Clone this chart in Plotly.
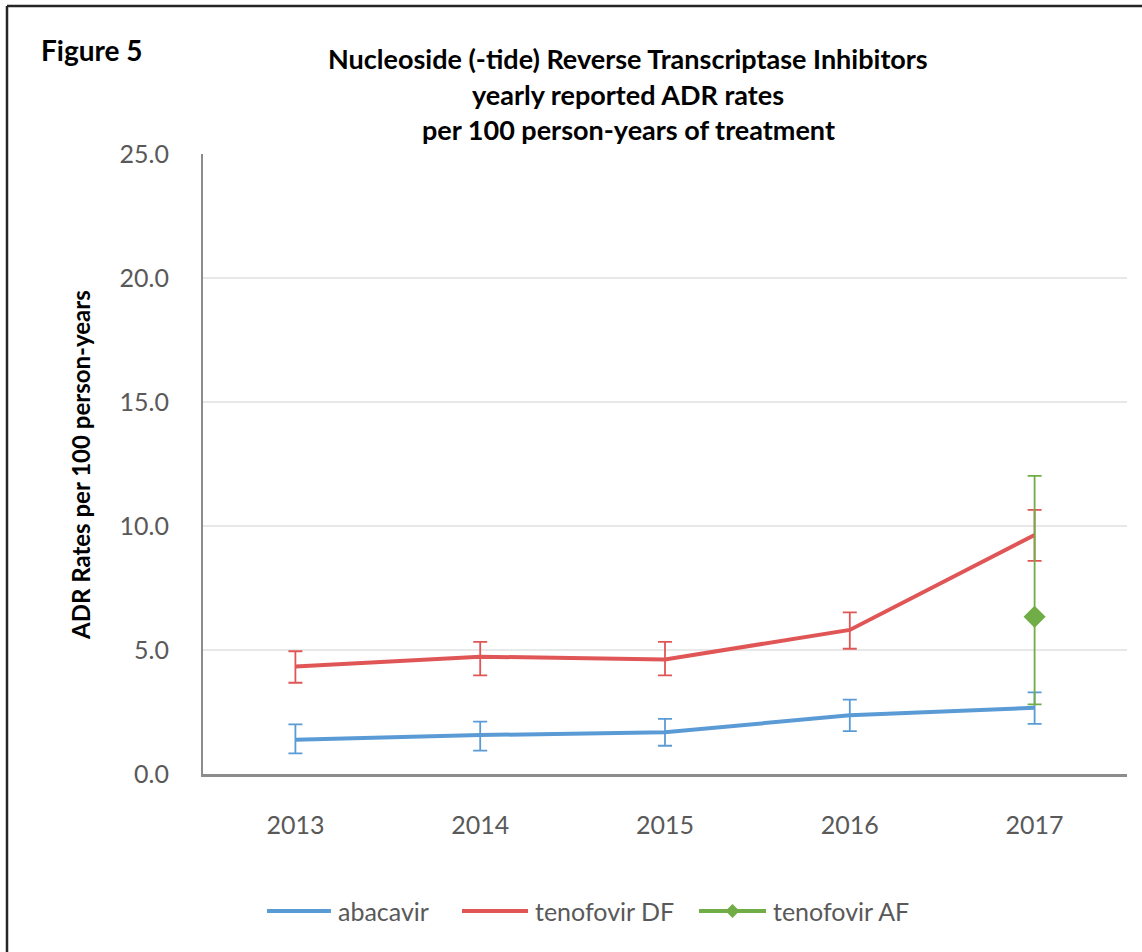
import plotly.graph_objects as go

# Reporting years
years = [2013, 2014, 2015, 2016, 2017]

# abacavir: ADR rate per 100 person-years with confidence limits
abacavir_rate = [1.38, 1.57, 1.68, 2.37, 2.67]
abacavir_upper = [2.00, 2.11, 2.22, 3.00, 3.29]
abacavir_lower = [0.83, 0.94, 1.14, 1.73, 2.02]

# tenofovir DF
tdf_rate = [4.33, 4.73, 4.62, 5.81, 9.64]
tdf_upper = [4.95, 5.33, 5.33, 6.52, 10.65]
tdf_lower = [3.68, 3.98, 3.98, 5.05, 8.59]

# tenofovir AF (single year)
taf_years = [2017]
taf_rate = [6.34]
taf_upper = [12.02]
taf_lower = [2.81]

y_ticks = [0, 5, 10, 15, 20, 25]

BLUE = "#5B9BD5"
RED = "#E05656"
GREEN = "#70AD47"
FONT = "Lato"

# plot-area geometry in pixels (used for overlay text / legend placement)
L, R, T, B = 203, 1127, 154, 774
W, H = R - L, B - T


def xp(px):
    return (px - L) / W


def yp(py):
    return (B - py) / H


def err(rate, up, lo):
    return dict(
        type="data",
        symmetric=False,
        array=[u - r for u, r in zip(up, rate)],
        arrayminus=[r - l for r, l in zip(rate, lo)],
        thickness=1.8,
        width=7,
    )


fig = go.Figure()

fig.add_trace(go.Scatter(
    x=years, y=abacavir_rate, mode="lines", name="abacavir",
    line=dict(color=BLUE, width=4),
    error_y=dict(err(abacavir_rate, abacavir_upper, abacavir_lower), color=BLUE),
))
fig.add_trace(go.Scatter(
    x=years, y=tdf_rate, mode="lines", name="tenofovir DF",
    line=dict(color=RED, width=4),
    error_y=dict(err(tdf_rate, tdf_upper, tdf_lower), color=RED),
))
fig.add_trace(go.Scatter(
    x=taf_years, y=taf_rate, mode="lines+markers", name="tenofovir AF",
    line=dict(color=GREEN, width=4),
    marker=dict(symbol="diamond", size=17, color=GREEN),
    error_y=dict(err(taf_rate, taf_upper, taf_lower), color=GREEN),
))

shapes = []
annotations = []

# outer frame (top and left edges)
shapes.append(dict(type="line", xref="paper", yref="paper",
                   x0=xp(7), x1=xp(1150), y0=yp(6), y1=yp(6),
                   line=dict(color="#262626", width=2.5)))
shapes.append(dict(type="line", xref="paper", yref="paper",
                   x0=xp(7), x1=xp(7), y0=yp(6), y1=yp(960),
                   line=dict(color="#262626", width=2.5)))

# titles
annotations.append(dict(text="<b>Figure 5</b>", xref="paper", yref="paper",
                        x=xp(39), y=yp(50), xanchor="left", yanchor="middle",
                        showarrow=False, font=dict(family=FONT, size=28, color="#000000")))
title_lines = ["Nucleoside (-tide) Reverse Transcriptase Inhibitors",
               "yearly reported ADR rates",
               "per 100 person-years of treatment"]
for line, py in zip(title_lines, [58, 94, 130]):
    annotations.append(dict(text="<b>" + line + "</b>", xref="paper", yref="paper",
                            x=xp(628), y=yp(py), xanchor="center", yanchor="middle",
                            showarrow=False, font=dict(family=FONT, size=27, color="#000000")))

# y-axis title
annotations.append(dict(text="<b>ADR Rates per 100 person-years</b>", xref="paper", yref="paper",
                        x=xp(80), y=yp(465), xanchor="center", yanchor="middle", textangle=-90,
                        showarrow=False, font=dict(family=FONT, size=24, color="#000000")))

# legend
legend_items = [("abacavir", BLUE, 267, 331, False),
                ("tenofovir DF", RED, 462, 528, False),
                ("tenofovir AF", GREEN, 699, 766, True)]
LEG_Y = 911
for name, color, x0, x1, diamond in legend_items:
    shapes.append(dict(type="line", xref="paper", yref="paper",
                       x0=xp(x0), x1=xp(x1), y0=yp(LEG_Y), y1=yp(LEG_Y),
                       line=dict(color=color, width=4)))
    if diamond:
        cx = (x0 + x1) / 2
        d = 7
        shapes.append(dict(type="path", xref="paper", yref="paper",
                           path=f"M {xp(cx - d)} {yp(LEG_Y)} L {xp(cx)} {yp(LEG_Y - d)} "
                                f"L {xp(cx + d)} {yp(LEG_Y)} L {xp(cx)} {yp(LEG_Y + d)} Z",
                           fillcolor=color, line=dict(color=color, width=0)))
    annotations.append(dict(text=name, xref="paper", yref="paper",
                            x=xp(x1 + 5), y=yp(LEG_Y), xanchor="left", yanchor="middle",
                            showarrow=False, font=dict(family=FONT, size=25, color="#595959")))

fig.update_layout(
    width=1142, height=952,
    margin=dict(l=L, r=1142 - R, t=T, b=952 - B, pad=0),
    paper_bgcolor="white", plot_bgcolor="white",
    showlegend=False,
    font=dict(family=FONT, color="#595959"),
    shapes=shapes, annotations=annotations,
    xaxis=dict(
        range=[2012.5, 2017.5], tickvals=years, ticktext=[str(y) for y in years],
        showgrid=False, zeroline=False,
        showline=True, linecolor="#8C8C8C", linewidth=2.5,
        ticks="", ticklabelstandoff=27,
        tickfont=dict(family=FONT, size=25, color="#595959"),
    ),
    yaxis=dict(
        range=[0, 25], tickvals=y_ticks, tickformat=".1f",
        showgrid=True, gridcolor="#E8E8E8", gridwidth=1.5,
        zeroline=False,
        showline=True, linecolor="#8C8C8C", linewidth=2,
        ticks="", ticklabelstandoff=27,
        tickfont=dict(family=FONT, size=25, color="#595959"),
    ),
)

fig.write_html("out.html")
